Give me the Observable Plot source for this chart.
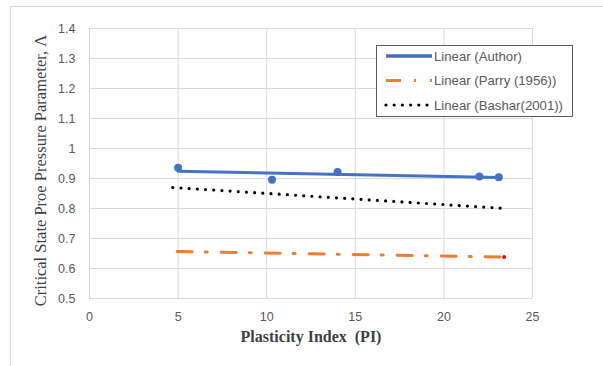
<!DOCTYPE html>
<html><head><meta charset="utf-8">
<script src="https://cdn.jsdelivr.net/npm/d3@7"></script>
<script src="https://cdn.jsdelivr.net/npm/@observablehq/plot@0.6"></script>
<style>
body{margin:0;width:603px;height:366px;overflow:hidden;background:#fff;position:relative;font-family:"Liberation Sans",Arial,sans-serif;}
#frame{position:absolute;left:10px;top:6px;width:620px;height:380px;border:1px solid #d9d9d9;box-sizing:border-box;}
#chart{position:absolute;left:0;top:0;}
#legend{position:absolute;left:376px;top:45px;width:197px;height:72px;border:1px solid #5a5a5a;background:#fff;box-sizing:border-box;}
</style></head>
<body>
<div id="frame"></div>
<div id="chart"></div>
<div id="legend"></div>
<script>
// Data
const authorPI = [5.0, 10.3, 14.0, 22.0, 23.1];
const authorL  = [0.936, 0.896, 0.922, 0.907, 0.904];
const parryPI  = [4.95, 23.4];
const parryL   = [0.657, 0.638];
const basharPI = [4.7, 23.5];
const basharL  = [0.870, 0.800];
const xTicks = [0, 5, 10, 15, 20, 25];
const yTicks = [0.5, 0.6, 0.7, 0.8, 0.9, 1.0, 1.1, 1.2, 1.3, 1.4];
const seriesNames = ["Linear (Author)", "Linear (Parry (1956))", "Linear (Bashar(2001))"];
const xLabel = "Plasticity Index  (PI)";
const yLabel = "Critical State Proe Pressure Parameter, Λ";

const author = authorPI.map((x, i) => ({x, y: authorL[i]}));
const parry = parryPI.map((x, i) => ({x, y: parryL[i]}));
const bashar = basharPI.map((x, i) => ({x, y: basharL[i]}));

const blue = "#4472C4", orange = "#ED7D31";
const parryDash = "15,13,2,14";

const chart = Plot.plot({
  width: 603, height: 366,
  marginLeft: 89, marginRight: 71, marginTop: 28, marginBottom: 68,
  style: {fontFamily: "Liberation Sans, Arial, sans-serif", fontSize: "12.5px", color: "#595959", background: "transparent", overflow: "visible"},
  x: {domain: [0, 25], ticks: xTicks},
  y: {domain: [0.5, 1.4], ticks: yTicks},
  marks: [
    Plot.gridX(xTicks, {stroke: "#d9d9d9", strokeOpacity: 1}),
    Plot.gridY(yTicks, {stroke: "#d9d9d9", strokeOpacity: 1}),
    Plot.axisX(xTicks, {tickSize: 0, tickPadding: 14, label: null, fill: "#595959"}),
    Plot.axisY(yTicks, {tickSize: 0, tickPadding: 14, label: null, fill: "#595959", tickFormat: d => String(+d.toFixed(1))}),
    Plot.line(bashar, {x: "x", y: "y", stroke: "#000", strokeWidth: 3.2, strokeLinecap: "round", strokeDasharray: "0,8.2"}),
    Plot.line(parry, {x: "x", y: "y", stroke: orange, strokeWidth: 3, strokeDasharray: parryDash}),
    Plot.dot(parry.slice(-1), {x: "x", y: "y", r: 2, fill: "red"}),
    Plot.linearRegressionY(author, {x: "x", y: "y", stroke: blue, strokeWidth: 3, ci: 0}),
    Plot.dot(author, {x: "x", y: "y", r: 4, fill: blue}),
    Plot.text([yLabel], {frameAnchor: "left", textAnchor: "middle", rotate: -90, dx: -49, dy: 7, fontFamily: "Liberation Serif, Times New Roman, serif", fontSize: 16.5, fill: "#404040"}),
    Plot.text([xLabel], {frameAnchor: "bottom", textAnchor: "middle", dy: 43, fontFamily: "Liberation Serif, Times New Roman, serif", fontSize: 16, fontWeight: "bold", fill: "#404040"})
  ]
});
document.getElementById("chart").appendChild(chart);

// Legend
const styles = [
  {stroke: blue, width: 3.5, dash: null, cap: "butt"},
  {stroke: orange, width: 3, dash: parryDash, cap: "butt"},
  {stroke: "#000", width: 3.2, dash: "0,8.2", cap: "round"}
];
const leg = d3.select("#legend").append("svg").attr("width", 197).attr("height", 72)
  .style("position", "absolute").style("left", "-1px").style("top", "-1px");
seriesNames.forEach((name, i) => {
  const cy = 11 + i * 24.5;
  const s = styles[i];
  const ln = leg.append("line").attr("x1", 10).attr("x2", 56).attr("y1", cy).attr("y2", cy)
    .attr("stroke", s.stroke).attr("stroke-width", s.width).attr("stroke-linecap", s.cap);
  if (s.dash) ln.attr("stroke-dasharray", s.dash);
  leg.append("text").attr("x", 58).attr("y", cy).attr("dy", "0.35em")
    .attr("font-size", 13.2).attr("fill", "#595959").text(name);
});
</script>
</body></html>
